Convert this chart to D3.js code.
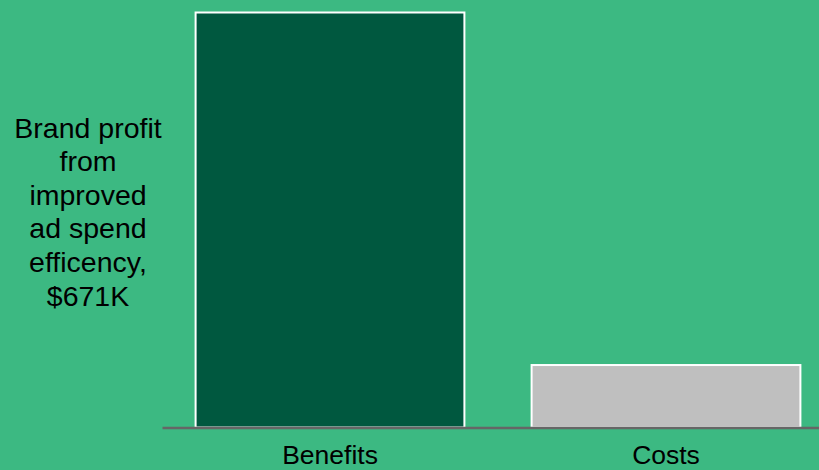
<!DOCTYPE html>
<html>
<head>
<meta charset="utf-8">
<script src="https://cdn.jsdelivr.net/npm/d3@7"></script>
<style>
  html, body { margin: 0; padding: 0; background: #3cb982; overflow: hidden; }
  svg { display: block; }
  text { font-family: "Liberation Sans", Arial, sans-serif; fill: #000; }
</style>
</head>
<body>
<script>
const categories = ["Benefits", "Costs"];
const values = [671, 101];          // $K
const barColors = ["#00583f", "#bfbfbf"];
const annotationLines = ["Brand profit", "from", "improved", "ad spend", "efficency,", "$671K"];

const W = 819, H = 470;
const svg = d3.select("body").append("svg").attr("width", W).attr("height", H);
svg.append("rect").attr("width", W).attr("height", H).attr("fill", "#3cb982");

const x = d3.scaleBand().domain(categories).range([162, 834]).paddingInner(0.2).paddingOuter(0.1);
const y = d3.scaleLinear().domain([0, 671]).range([427.5, 12.5]);

svg.selectAll("rect.bar").data(categories).enter().append("rect")
  .attr("class", "bar")
  .attr("x", d => x(d))
  .attr("y", (d, i) => y(values[i]))
  .attr("width", x.bandwidth())
  .attr("height", (d, i) => y(0) - y(values[i]))
  .attr("fill", (d, i) => barColors[i])
  .attr("stroke", "#fff")
  .attr("stroke-width", 2);

// baseline axis
const xAxis = d3.axisBottom(x).tickSize(0).tickPadding(0);
const g = svg.append("g").attr("transform", `translate(0,${y(0)})`).call(xAxis);
g.select(".domain").attr("stroke", "#666").attr("stroke-width", 2.5);
g.selectAll(".tick text")
  .attr("dy", null)
  .attr("y", 36.5)
  .style("font-size", "26.5px")
  .style("font-family", '"Liberation Sans", Arial, sans-serif')
  .attr("fill", "#000");

// annotation
const ann = svg.append("text").attr("text-anchor", "middle").style("font-size", "28.5px");
annotationLines.forEach((l, i) => {
  ann.append("tspan").attr("x", 88).attr("y", 137.5 + i * 33.6).text(l);
});
</script>
</body>
</html>
